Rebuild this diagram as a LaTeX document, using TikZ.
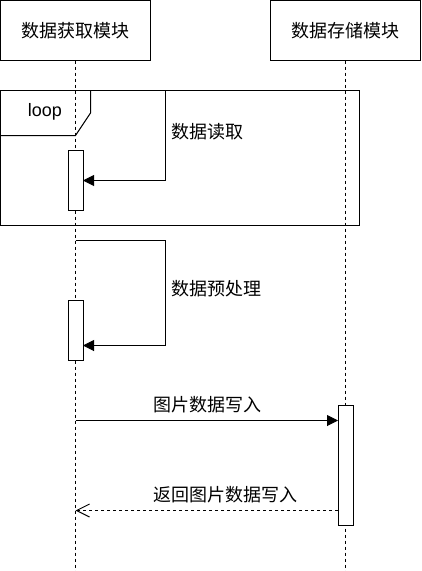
\documentclass[tikz,border=0pt]{standalone}
\usepackage{fontspec}
\setmainfont{Liberation Sans}
\newfontfamily\cjk{Noto Sans CJK SC}
\usetikzlibrary{arrows.meta}
\begin{document}
\begin{tikzpicture}[x=1pt,y=-1pt,line width=1pt,
  part/.style={draw,minimum width=150pt,minimum height=60pt,inner sep=0pt,outer sep=0pt,font=\cjk\fontsize{18}{22}\selectfont},
  act/.style={draw,fill=white,minimum width=15pt,inner sep=0pt,outer sep=0pt},
  life/.style={dash pattern=on 3pt off 3pt},
  msg/.style={-{Triangle[length=11pt,width=11pt]}},
  ret/.style={dash pattern=on 3pt off 3pt,-{Straight Barb[length=13pt,width=13pt]}},
  lbl/.style={font=\cjk\fontsize{18}{22}\selectfont,inner sep=0pt},
  tag/.style={font=\fontsize{18}{22}\selectfont,inner sep=0pt}
]
\useasboundingbox (0,0) rectangle (421,571);
% participants
\node[part] (A) at (75.5,30.5) {数据获取模块};
\node[part] (B) at (345.5,30.5) {数据存储模块};
\coordinate (Aend) at (75.5,571);
\coordinate (Bend) at (345.5,571);
\draw[life] (A.south) -- (Aend);
\draw[life] (B.south) -- (Bend);
% loop frame
\node[draw,minimum width=359pt,minimum height=135pt,inner sep=0pt,outer sep=0pt,anchor=north west] (frame) at (0.5,90.5) {};
\coordinate (t1) at (90.5,90.5);
\coordinate (t2) at (90.5,113);
\coordinate (t3) at (75.5,135.5);
\coordinate (t4) at (0.5,135.5);
\draw (t1) -- (t2) -- (t3) -- (t4);
\node[tag] (looplbl) at (45,112) {loop};
% activations
\node[act,minimum height=60pt,anchor=north] (a1) at (75.5,150.5) {};
\node[act,minimum height=60pt,anchor=north] (a2) at (75.5,300.5) {};
\node[act,minimum height=120pt,anchor=north] (b1) at (345.5,405.5) {};
% self message 1
\coordinate (s1) at (75.5,90.5);
\coordinate (s1a) at (165.5,90.5);
\coordinate (s1b) at (165.5,180.5);
\draw[msg] (s1) -- (s1a) -- (s1b) -- (a1.east |- s1b);
\node[lbl,anchor=west] (l1) at (171,132) {数据读取};
% self message 2
\coordinate (s2) at (75.5,240.5);
\coordinate (s2a) at (165.5,240.5);
\coordinate (s2b) at (165.5,345.5);
\draw[msg] (s2) -- (s2a) -- (s2b) -- (a2.east |- s2b);
\node[lbl,anchor=west] (l2) at (171,289) {数据预处理};
% write message
\coordinate (m1) at (75.5,420.5);
\draw[msg] (m1) -- (b1.west |- m1);
\node[lbl] (l3) at (207.5,405) {图片数据写入};
% return
\coordinate (r1) at (75.5,510.5);
\draw[ret] (b1.west |- r1) -- (r1);
\node[lbl] (l4) at (225.5,495) {返回图片数据写入};
\end{tikzpicture}
\end{document}
